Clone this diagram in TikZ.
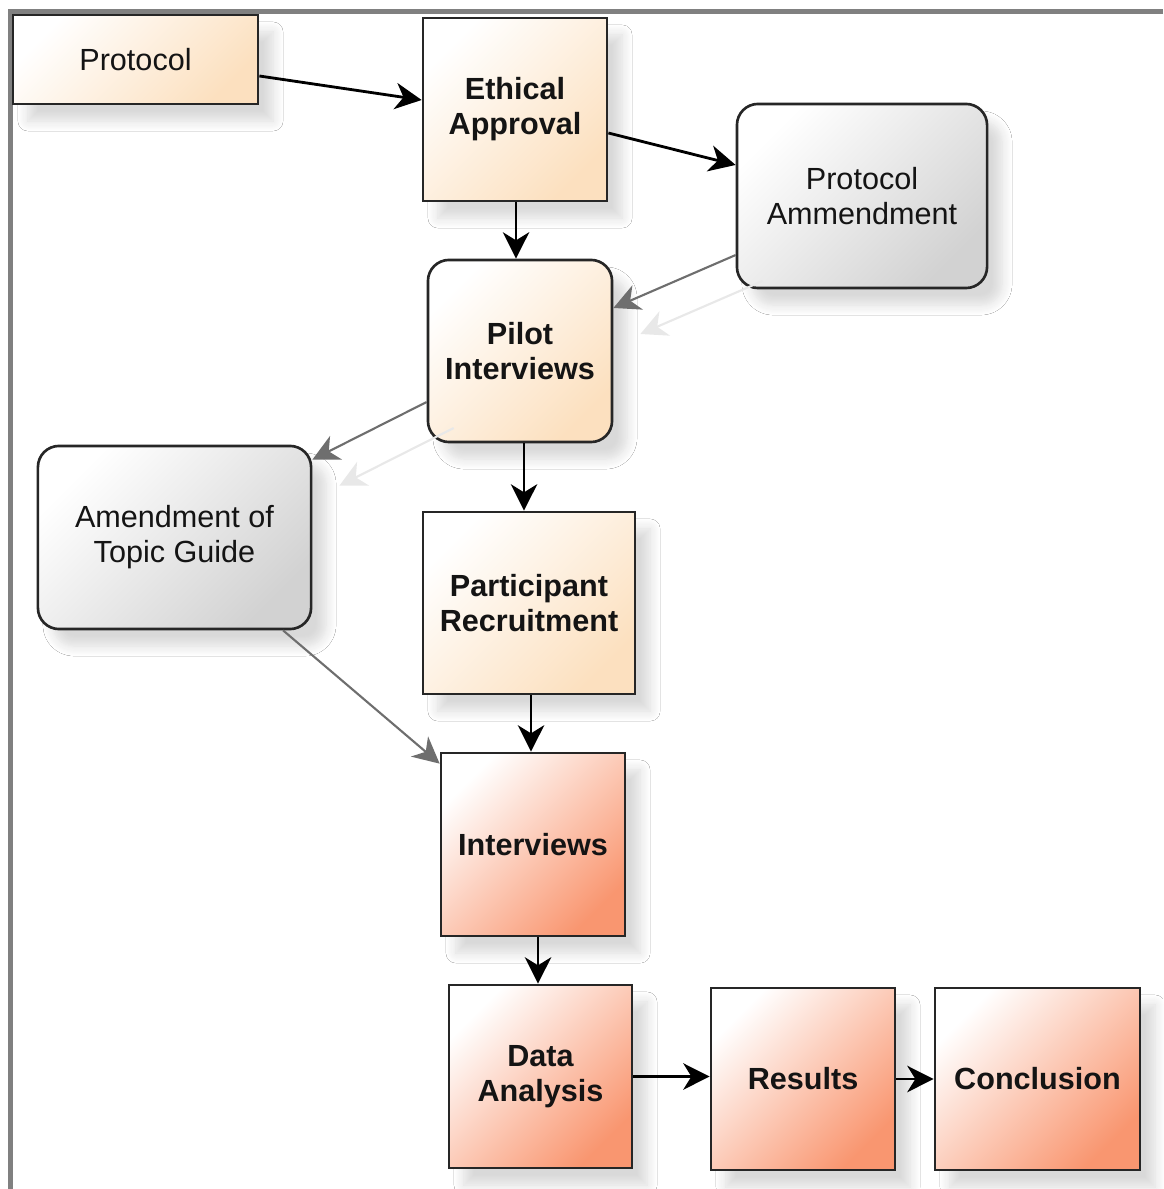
\documentclass[tikz,border=0pt]{standalone}
\usepackage{fontspec}
\setmainfont{Liberation Sans}
\usetikzlibrary{arrows.meta,shadows.blur}
\definecolor{peach}{HTML}{FCE0BF}
\definecolor{salmon}{HTML}{F99670}
\definecolor{greyend}{HTML}{D2D2D2}
\definecolor{framegrey}{HTML}{808080}
\definecolor{linkgrey}{HTML}{6E6E6E}
\tikzset{
  box/.style={draw=black!85, line width=0.75pt, inner sep=0pt, align=center,
    text=black!92, font=\fontsize{8.7}{10}\selectfont,
    top color=white, bottom color=#1, shading angle=45,
    blur shadow={shadow xshift=0.15cm, shadow yshift=-0.17cm,
      shadow blur radius=0.1cm, shadow blur steps=10, shadow opacity=15}},
  boldbox/.style={box=#1, font=\fontsize{8.7}{10}\selectfont\bfseries},
  roundbox/.style={rounded corners=6pt},
  mainlink/.style={draw=black, line width=0.8pt,
    -{Stealth[length=7.5pt,width=7.5pt,inset=2.3pt]}},
  sidelink/.style={draw=linkgrey, line width=0.6pt,
    -{Stealth[length=7.5pt,width=7.5pt,inset=2.3pt]}},
  ghostlink/.style={draw=black!9, line width=0.6pt,
    -{Stealth[length=7.5pt,width=7.5pt,inset=2.3pt]},
    transform canvas={xshift=0.27cm, yshift=-0.26cm}}
}
\begin{document}
\begin{tikzpicture}[x=0.01cm, y=-0.01cm]
\useasboundingbox (0,0) rectangle (1163,1189);
\fill[white] (0,0) rectangle (1163,1189);
% frame
\draw[framegrey, line width=1.3pt] (1163,11.5) -- (10.3,11.5) -- (10.3,1189);

% nodes
\node[box=peach, minimum width=2.45cm, minimum height=0.89cm] (proto) at (135.5,59.5) {Protocol};
\node[boldbox=peach, minimum width=1.84cm, minimum height=1.83cm] (eth) at (515,109.5) {Ethical\\Approval};
\node[box=greyend, roundbox, minimum width=2.50cm, minimum height=1.84cm] (pam) at (862,196) {Protocol\\Ammendment};
\node[boldbox=peach, roundbox, minimum width=1.84cm, minimum height=1.82cm] (pil) at (520,351) {Pilot\\Interviews};
\node[box=greyend, roundbox, minimum width=2.73cm, minimum height=1.83cm] (atg) at (174.5,537.5) {Amendment of\\Topic Guide};
\node[boldbox=peach, minimum width=2.12cm, minimum height=1.82cm] (par) at (529,603) {Participant\\Recruitment};
\node[boldbox=salmon, minimum width=1.84cm, minimum height=1.83cm] (int) at (533,844.5) {Interviews};
\node[boldbox=salmon, minimum width=1.83cm, minimum height=1.83cm] (dat) at (540.5,1076.5) {Data\\Analysis};
\node[boldbox=salmon, minimum width=1.84cm, minimum height=1.82cm] (res) at (803,1079) {Results};
\node[boldbox=salmon, minimum width=2.05cm, minimum height=1.82cm] (con) at (1037.5,1079) {Conclusion};

% faint arrow shadows
\draw[ghostlink] ([yshift=-0.59cm]pam.west) -- ([yshift=0.43cm]pil.east);
\draw[ghostlink] ([yshift=-0.51cm]pil.west) -- ([yshift=-0.15cm]atg.north east);

% connectors
\draw[mainlink] ([yshift=-0.165cm]proto.east) -- ([yshift=0.095cm]eth.west);
\draw[mainlink] ([yshift=-0.235cm]eth.east) -- ([yshift=0.31cm]pam.west);
\draw[mainlink] ([xshift=0.01cm]eth.south) -- ([xshift=0.01cm]eth.south |- pil.north);
\draw[sidelink] ([yshift=-0.59cm]pam.west) -- ([yshift=0.43cm]pil.east);
\draw[sidelink] ([yshift=-0.51cm]pil.west) -- ([yshift=-0.15cm]atg.north east);
\draw[mainlink] ([xshift=0.04cm]pil.south) -- ([xshift=0.04cm]pil.south |- par.north);
\draw[sidelink] ([xshift=1.085cm]atg.south) -- ([yshift=-0.12cm]int.north west);
\draw[mainlink] ([xshift=0.02cm]par.south) -- ([xshift=0.02cm]par.south |- int.north);
\draw[mainlink] ([xshift=0.05cm]int.south) -- ([xshift=0.05cm]int.south |- dat.north);
\draw[mainlink] (dat.east) -- (dat.east -| res.west);
\draw[mainlink] (res.east) -- (con.west);
\end{tikzpicture}
\end{document}
